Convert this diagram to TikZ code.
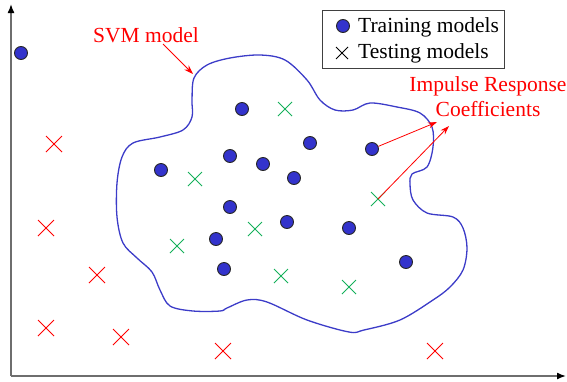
\documentclass[tikz,border=0pt]{standalone}
\usepackage{fontspec}
\setmainfont{Liberation Serif}
\usetikzlibrary{shapes.misc,arrows.meta}
\definecolor{dotblue}{RGB}{51,51,204}
\definecolor{curveblue}{RGB}{60,60,200}
\definecolor{xgreen}{RGB}{20,176,90}
\definecolor{axisgray}{RGB}{110,110,110}
\begin{document}
\begin{tikzpicture}[x=1pt,y=-1pt,
  dot/.style={circle,fill=dotblue,draw=black!85,line width=0.9pt,minimum size=13pt,inner sep=0pt},
  gx/.style={cross out,draw=xgreen,line width=1pt,minimum size=13pt,inner sep=0pt},
  rx/.style={cross out,draw=red,line width=1pt,minimum size=15pt,inner sep=0pt},
  kx/.style={cross out,draw=black,line width=1pt,minimum size=11pt,inner sep=0pt},
  lbl/.style={text=red,font=\fontsize{21.5}{25}\selectfont,inner sep=0pt},
  legtxt/.style={text=black,font=\fontsize{21.5}{25}\selectfont,inner sep=0pt,anchor=base west},
  ptr/.style={draw=red,line width=0.8pt,-{Stealth[length=9pt,width=6pt]}},
  axis/.style={draw=axisgray,line width=1.5pt,-{Latex[black,length=9pt,width=7pt]}}]
\useasboundingbox (0,0) rectangle (567,381);

% axes
\coordinate (o) at (11,376);
\coordinate (ytip) at (11,4);
\coordinate (xtip) at (566,376);
\draw[axis] (o) -- (ytip);
\draw[axis] (o) -- (xtip);

% SVM boundary
\draw[curveblue,line width=1.3pt] plot[smooth cycle,tension=0.55] coordinates {
 (192,100) (194,78) (207,65) (230,58) (260,55) (285,60) (307,80) (320,100)
 (335,110) (353,110) (370,103) (397,107) (420,113) (432,127) (433,147)
 (427,167) (412,174) (410,184) (413,200) (427,213) (453,217) (463,228)
 (467,248) (463,270) (450,287) (433,300) (400,320) (364,330) (349,332)
 (307,320) (267,302) (247,300) (227,308) (220,311) (193,311) (170,306)
 (160,290) (152,272) (137,258) (123,243) (117,217) (117,183) (122,157)
 (133,143) (160,137) (183,130) (192,117)};

% training models
\node[dot] (d1) at (21,53) {};
\node[dot] (d2) at (242,109) {};
\node[dot] (d3) at (310,143) {};
\node[dot] (d4) at (372,149) {};
\node[dot] (d5) at (230,156) {};
\node[dot] (d6) at (263,164) {};
\node[dot] (d7) at (161,170) {};
\node[dot] (d8) at (294,178) {};
\node[dot] (d9) at (230,207) {};
\node[dot] (d10) at (287,222) {};
\node[dot] (d11) at (216,239) {};
\node[dot] (d12) at (349,228) {};
\node[dot] (d13) at (224,269) {};
\node[dot] (d14) at (406,262) {};

% testing models inside
\node[gx] (g1) at (285,109) {};
\node[gx] (g2) at (195,179) {};
\node[gx] (g3) at (378,199) {};
\node[gx] (g4) at (255,229) {};
\node[gx] (g5) at (177,246) {};
\node[gx] (g6) at (281,276) {};
\node[gx] (g7) at (349,287) {};

% testing models outside
\node[rx] (r1) at (54,144) {};
\node[rx] (r2) at (46,228) {};
\node[rx] (r3) at (97,275) {};
\node[rx] (r4) at (46,328) {};
\node[rx] (r5) at (121,337) {};
\node[rx] (r6) at (223,351) {};
\node[rx] (r7) at (435,351) {};

% legend
\node[draw=black!75,line width=1pt,minimum width=182pt,minimum height=58pt,inner sep=0pt] (leg) at (413,39) {};
\node[dot] (ld) at (343,26) {};
\node[legtxt] (lt1) at (358,32) {Training models};
\node[kx] (lx) at (342,53) {};
\node[legtxt] (lt2) at (358,58) {Testing models};

% labels
\node[lbl,anchor=base] (svm) at (146,42) {SVM model};
\coordinate (svmfrom) at (163,44);
\coordinate (svmto) at (193,74);
\draw[ptr] (svmfrom) -- (svmto);

\node[lbl,align=center] (irc) at (488,97) {Impulse Response\\Coefficients};
\coordinate (tip1) at (437,122);
\coordinate (tip2) at (449,126);
\draw[ptr] (d4) -- (tip1);
\draw[ptr] (g3.center) -- (tip2);
\end{tikzpicture}
\end{document}
